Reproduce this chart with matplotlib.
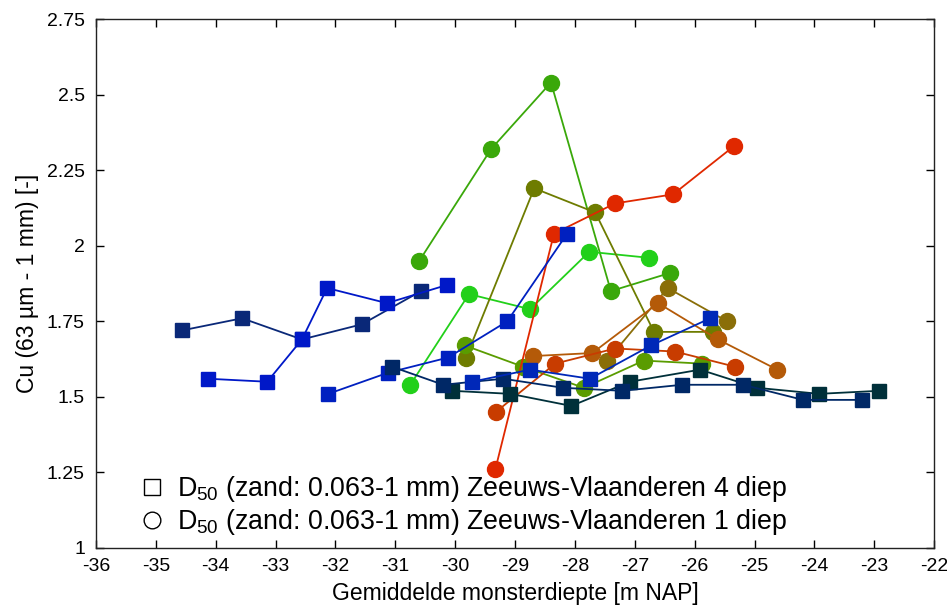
import matplotlib
matplotlib.use('Agg')
import matplotlib.pyplot as plt
from matplotlib.lines import Line2D
from matplotlib.ticker import FuncFormatter

plt.rcParams['font.family'] = ['Liberation Sans', 'DejaVu Sans']
plt.rcParams['mathtext.fontset'] = 'custom'
plt.rcParams['mathtext.rm'] = 'Liberation Sans'
plt.rcParams['axes.unicode_minus'] = False

# --- Zeeuws-Vlaanderen 4 diep (squares) ---
sq_a_x = [-34.56, -33.56, -32.56, -31.56, -30.57]
sq_a_y = [1.72, 1.76, 1.69, 1.74, 1.85]
sq_b_x = [-34.13, -33.14, -32.56, -32.14, -31.14, -30.14]
sq_b_y = [1.56, 1.55, 1.69, 1.86, 1.81, 1.87]
sq_c_x = [-32.12, -31.12, -30.12, -29.13, -28.13]
sq_c_y = [1.51, 1.58, 1.63, 1.75, 2.04]
sq_d_x = [-29.72, -28.75, -27.75, -26.73, -25.74]
sq_d_y = [1.55, 1.59, 1.56, 1.67, 1.76]
sq_e_x = [-31.06, -30.20, -29.20, -28.20, -27.21, -26.21, -25.19, -24.19, -23.20]
sq_e_y = [1.60, 1.54, 1.56, 1.53, 1.52, 1.54, 1.54, 1.49, 1.49]
sq_f_x = [-30.05, -29.08, -28.06, -27.08, -25.91, -24.96, -23.92, -22.92]
sq_f_y = [1.52, 1.51, 1.47, 1.55, 1.59, 1.53, 1.51, 1.52]

# --- Zeeuws-Vlaanderen 1 diep (circles) ---
ci_g1_x = [-30.60, -29.40, -28.40, -27.40, -26.41]
ci_g1_y = [1.95, 2.32, 2.54, 1.85, 1.91]
ci_g2_x = [-30.75, -29.77, -28.75, -27.76, -26.76]
ci_g2_y = [1.54, 1.84, 1.79, 1.98, 1.96]
ci_o1_x = [-29.82, -28.68, -27.66, -26.68, -25.69]
ci_o1_y = [1.63, 2.19, 2.11, 1.715, 1.715]
ci_og_x = [-29.84, -28.87, -27.85, -26.85, -25.88]
ci_og_y = [1.67, 1.60, 1.53, 1.62, 1.61]
ci_br1_x = [-28.70, -27.71, -26.61, -25.61, -24.62]
ci_br1_y = [1.635, 1.645, 1.81, 1.69, 1.59]
ci_br2_x = [-27.46, -26.45, -25.46]
ci_br2_y = [1.62, 1.86, 1.75]
ci_r1_x = [-29.33, -28.35, -27.33, -26.36, -25.34]
ci_r1_y = [1.26, 2.04, 2.14, 2.17, 2.33]
ci_r2_x = [-29.32, -28.33, -27.33, -26.33, -25.33]
ci_r2_y = [1.45, 1.61, 1.66, 1.65, 1.60]

x_ticks = list(range(-36, -21))
y_ticks = [1, 1.25, 1.5, 1.75, 2, 2.25, 2.5, 2.75]
legend_labels = [r'D$_{50}$ (zand: 0.063-1 mm) Zeeuws-Vlaanderen 4 diep',
                 r'D$_{50}$ (zand: 0.063-1 mm) Zeeuws-Vlaanderen 1 diep']

circles = [
    (ci_g1_x, ci_g1_y, '#3aa80a'),
    (ci_g2_x, ci_g2_y, '#22d01a'),
    (ci_o1_x, ci_o1_y, '#6e7c00'),
    (ci_og_x, ci_og_y, '#5a9c00'),
    (ci_br2_x, ci_br2_y, '#8a6e08'),
    (ci_br1_x, ci_br1_y, '#b45a08'),
    (ci_r2_x, ci_r2_y, '#c83c00'),
    (ci_r1_x, ci_r1_y, '#e02800'),
]
squares = [
    (sq_a_x, sq_a_y, '#0a2878'),
    (sq_b_x, sq_b_y, '#0018c8'),
    (sq_c_x, sq_c_y, '#0020c0'),
    (sq_f_x, sq_f_y, '#00303a'),
    (sq_e_x, sq_e_y, '#002866'),
    (sq_d_x, sq_d_y, '#0028b8'),
]

fig = plt.figure(figsize=(9.47, 6.14), dpi=100)
ax = fig.add_axes([0.1014, 0.1075, 0.885, 0.8615])

for xs, ys, c in circles:
    ax.plot(xs, ys, '-', color=c, lw=1.3, marker='o', ms=11.5,
            mfc=c, mec=c, zorder=2)
for xs, ys, c in squares:
    ax.plot(xs, ys, '-', color=c, lw=1.3, marker='s', ms=10.5,
            mfc=c, mec=c, zorder=3)

ax.set_xlim(-36, -22)
ax.set_ylim(1, 2.75)
ax.set_xticks(x_ticks)
ax.set_yticks(y_ticks)
ax.yaxis.set_major_formatter(FuncFormatter(lambda v, p: f'{v:g}'))
ax.tick_params(direction='in', top=True, right=True, length=6,
               labelsize=14, width=1)
ax.tick_params(axis='x', pad=7)
ax.tick_params(axis='y', pad=8)
for s in ax.spines.values():
    s.set_linewidth(1.0)
    s.set_color('#222222')

ax.set_xlabel('Gemiddelde monsterdiepte [m NAP]', fontsize=16.5, labelpad=5)
ax.set_ylabel('Cu (63 µm - 1 mm) [-]', fontsize=16.5, labelpad=6)

handles = [
    Line2D([], [], ls='none', marker='s', ms=11, mfc='white', mec='black', mew=1),
    Line2D([], [], ls='none', marker='o', ms=12, mfc='white', mec='black', mew=1),
]
ax.legend(handles, legend_labels, loc='lower left', bbox_to_anchor=(0.022, -0.025),
          frameon=False, fontsize=19.3, handletextpad=0.45, labelspacing=0.1,
          handlelength=1.0)

fig.savefig('out.png', dpi=100)
